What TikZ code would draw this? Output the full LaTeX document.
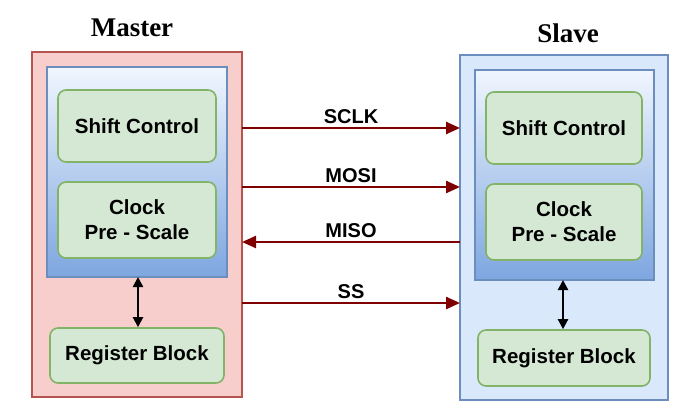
\documentclass[tikz,border=0pt]{standalone}
\usepackage{fontspec}
\setmainfont{Liberation Sans}
\newfontfamily\ttl{Liberation Serif}
\usetikzlibrary{arrows.meta}
\definecolor{pinkf}{HTML}{F8CECC}\definecolor{pinks}{HTML}{B85450}
\definecolor{bluef}{HTML}{DAE8FC}\definecolor{blues}{HTML}{6C8EBF}
\definecolor{grnf}{HTML}{D5E8D4}\definecolor{grns}{HTML}{82B366}
\definecolor{gradb}{HTML}{7EA6E0}\definecolor{arr}{HTML}{7F0000}
\begin{document}
\begin{tikzpicture}[x=1pt,y=-1pt,
 outer/.style={draw=#1,line width=1.6pt},
 inner/.style={draw=blues,line width=1.6pt,top color=white!60!bluef,bottom color=gradb},
 blk/.style={draw=grns,fill=grnf,line width=1.6pt,rounded corners=8pt,font=\bfseries\fontsize{20.5}{25}\selectfont,align=center},
 sig/.style={draw=arr,line width=2.4pt,-{Triangle[length=14pt,width=12pt]}},
 lbl/.style={font=\bfseries\fontsize{20}{22}\selectfont,above},
 dbl/.style={line width=2.2pt,{Triangle[length=10pt,width=10pt]}-{Triangle[length=10pt,width=10pt]}},
 ttlsty/.style={font=\ttl\bfseries\fontsize{27}{30}\selectfont}]
\useasboundingbox (0,0) rectangle (700,414);
% Master
\node[ttlsty] (mt) at (132,28) {Master};
\draw[outer=pinks,fill=pinkf] (32,52) rectangle (242,397);
\draw[inner] (47,67) rectangle (227,277);
\node[blk,minimum width=158pt,minimum height=72pt] (msc) at (137,126) {Shift Control};
\node[blk,minimum width=158pt,minimum height=76pt] (mck) at (137,220) {Clock\\Pre - Scale};
\node[blk,minimum width=174pt,minimum height=55pt] (mrb) at (137,355.5) {Register Block};
\coordinate (mi) at (138,277);
\draw[dbl] (mi) -- (mrb.north -| mi);
% Slave
\node[ttlsty] (st) at (568,33) {Slave};
\draw[outer=blues,fill=bluef] (460,55) rectangle (668,400);
\draw[inner] (475,70) rectangle (654,280);
\node[blk,minimum width=156pt,minimum height=72pt] (ssc) at (564,128) {Shift Control};
\node[blk,minimum width=156pt,minimum height=76pt] (sck) at (564,222) {Clock\\Pre - Scale};
\node[blk,minimum width=172pt,minimum height=56pt] (srb) at (564,358) {Register Block};
\coordinate (si) at (563,280);
\draw[dbl] (si) -- (srb.north -| si);
% signals
\coordinate (a1) at (242,128); \coordinate (b1) at (460,128);
\coordinate (a2) at (242,187); \coordinate (b2) at (460,187);
\coordinate (a3) at (242,242); \coordinate (b3) at (460,242);
\coordinate (a4) at (242,303); \coordinate (b4) at (460,303);
\draw[sig] (a1) -- node[lbl,text=black]{SCLK} (b1);
\draw[sig] (a2) -- node[lbl,text=black]{MOSI} (b2);
\draw[sig] (b3) -- node[lbl,text=black]{MISO} (a3);
\draw[sig] (a4) -- node[lbl,text=black]{SS} (b4);
\end{tikzpicture}
\end{document}
